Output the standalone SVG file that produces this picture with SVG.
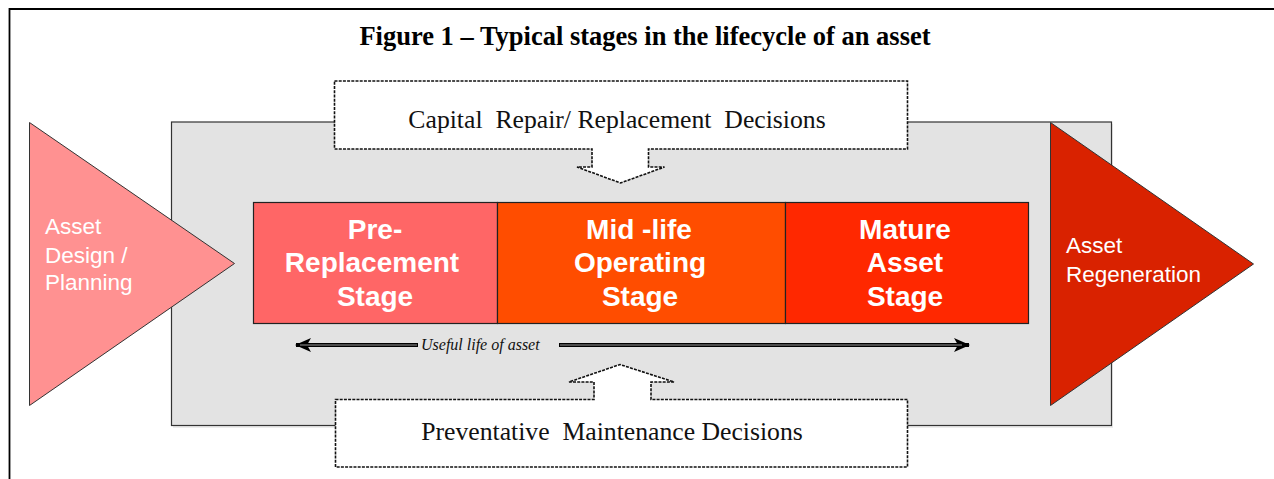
<svg xmlns="http://www.w3.org/2000/svg" width="1274" height="479" viewBox="0 0 1274 479">
  <style>
    .title { font-family: "Liberation Serif", serif; font-weight: bold; font-size: 26.5px; fill: #000; }
    .callout { fill: #fff; stroke: #111; stroke-width: 1.6; stroke-dasharray: 3 1.2; }
    .callout-text { font-family: "Liberation Serif", serif; font-size: 25.7px; fill: #111; white-space: pre; }
    .stage { stroke: #222; stroke-width: 1.2; }
    .stage-text { font-family: "Liberation Sans", Arial, sans-serif; font-weight: bold; font-size: 28px; fill: #fff; text-anchor: middle; }
    .tri { stroke: #333; stroke-width: 1; }
    .tri-text { font-family: "Liberation Sans", Arial, sans-serif; font-size: 22.5px; fill: #fff; }
    .life-text { font-family: "Liberation Serif", serif; font-style: italic; font-size: 16px; fill: #111; }
  </style>
  <defs>
    <marker id="head" viewBox="0 0 16 14" refX="15" refY="7" markerWidth="16" markerHeight="14" markerUnits="userSpaceOnUse" orient="auto-start-reverse">
      <path d="M0,0 L16,7 L0,14 L4,7 Z" fill="#000"/>
    </marker>
  </defs>

  <!-- page frame -->
  <g id="frame">
    <rect width="1274" height="479" fill="#fff"/>
    <path d="M9.5,479 V9 H1274" fill="none" stroke="#000" stroke-width="1.8"/>
  </g>

  <text class="title" x="645" y="45" text-anchor="middle">Figure 1 – Typical stages in the lifecycle of an asset</text>

  <!-- grey operating band -->
  <g id="band">
    <rect x="173" y="124" width="940" height="304" fill="#ececec"/>
    <rect x="171.5" y="122" width="940" height="303.5" fill="#e3e3e3" stroke="#333" stroke-width="1.2"/>
  </g>

  <!-- stages -->
  <g id="stage-pre">
    <rect class="stage" x="253.5" y="202.5" width="244" height="121" fill="#ff6666"/>
    <text class="stage-text" x="375" y="239">Pre-</text>
    <text class="stage-text" x="372" y="272">Replacement</text>
    <text class="stage-text" x="375" y="306">Stage</text>
  </g>
  <g id="stage-mid">
    <rect class="stage" x="497.5" y="202.5" width="288" height="121" fill="#ff4d00"/>
    <text class="stage-text" x="639" y="239">Mid -life</text>
    <text class="stage-text" x="640" y="272">Operating</text>
    <text class="stage-text" x="640" y="306">Stage</text>
  </g>
  <g id="stage-mature">
    <rect class="stage" x="785.5" y="202.5" width="243" height="121" fill="#ff2800"/>
    <text class="stage-text" x="905" y="239">Mature</text>
    <text class="stage-text" x="905" y="272">Asset</text>
    <text class="stage-text" x="905" y="306">Stage</text>
  </g>

  <!-- entry and exit -->
  <g id="design">
    <polygon class="tri" points="29.5,122.5 234.5,263.5 29.5,405.5" fill="#ff9191"/>
    <text class="tri-text" x="45" y="233.5">Asset</text>
    <text class="tri-text" x="45" y="262.5">Design /</text>
    <text class="tri-text" x="45" y="290">Planning</text>
  </g>
  <g id="regeneration">
    <polygon class="tri" points="1050.5,122.5 1253.5,264 1050.5,405.5" fill="#d92200"/>
    <text class="tri-text" x="1066" y="253">Asset</text>
    <text class="tri-text" x="1066" y="281.5">Regeneration</text>
  </g>

  <!-- decision callouts -->
  <g id="capital">
    <path class="callout" d="M334.5,81 H907.5 V149 H648.5 V167 H664.5 L620.5,183 L577,167 H592 V149 H334.5 Z"/>
    <text class="callout-text" x="617" y="128" text-anchor="middle">Capital  Repair/ Replacement  Decisions</text>
  </g>
  <g id="preventative">
    <path class="callout" d="M335.5,399.5 H594 V382 H569 L620,364.5 L674,382 H651 V399.5 H907.5 V467 H335.5 Z"/>
    <text class="callout-text" x="612" y="440" text-anchor="middle">Preventative  Maintenance Decisions</text>
  </g>

  <!-- useful life span -->
  <g id="connectors">
    <line x1="296" y1="345" x2="418" y2="345" stroke="#000" stroke-width="4" marker-start="url(#head)"/>
    <line x1="300" y1="345" x2="417" y2="345" stroke="#999" stroke-width="1"/>
    <line x1="559" y1="345" x2="969" y2="345" stroke="#000" stroke-width="4" marker-end="url(#head)"/>
    <line x1="560" y1="345" x2="962" y2="345" stroke="#999" stroke-width="1"/>
    <text class="life-text" x="421" y="350">Useful life of asset</text>
  </g>
</svg>
